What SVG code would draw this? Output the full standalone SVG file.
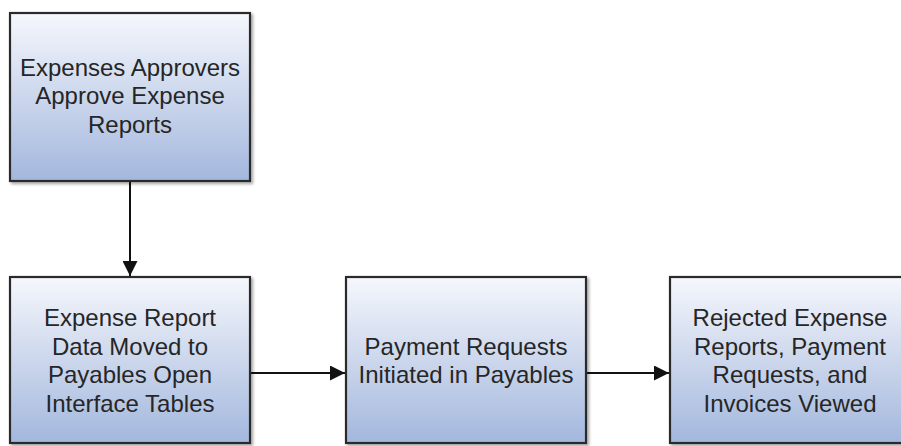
<svg xmlns="http://www.w3.org/2000/svg" width="901" height="446" viewBox="0 0 901 446">
<defs>
<linearGradient id="g" x1="0" y1="0" x2="0" y2="1">
<stop offset="0" stop-color="#f5f7fc"/>
<stop offset="1" stop-color="#a3b7dd"/>
</linearGradient>
<filter id="sh" x="-5%" y="-5%" width="115%" height="115%">
<feGaussianBlur in="SourceAlpha" stdDeviation="1.5"/>
<feOffset dx="1.5" dy="1.5" result="b"/>
<feComponentTransfer><feFuncA type="linear" slope="0.35"/></feComponentTransfer>
<feMerge><feMergeNode/><feMergeNode in="SourceGraphic"/></feMerge>
</filter>
<marker id="arr" viewBox="0 0 10 10" refX="10" refY="5" markerWidth="7.5" markerHeight="7.5" orient="auto" markerUnits="strokeWidth">
<path d="M0,0 L10,5 L0,10 z" fill="#111"/>
</marker>
</defs>
<style>
.box{fill:url(#g);stroke:#2a2a2a;stroke-width:2.2;filter:url(#sh)}
.t{font-family:"Liberation Sans",Arial,sans-serif;font-size:24px;fill:#262626;text-anchor:middle}
.c{stroke:#111;stroke-width:2;fill:none;marker-end:url(#arr)}
</style>
<g id="connectors">
<line class="c" x1="130" y1="181" x2="130" y2="276"/>
<line class="c" x1="250" y1="373" x2="345" y2="373"/>
<line class="c" x1="586" y1="373" x2="669" y2="373"/>
</g>
<g id="n1">
<rect class="box" x="10" y="13" width="240" height="168"/>
<text class="t" x="130" y="76">Expenses Approvers</text>
<text class="t" x="130" y="104">Approve Expense</text>
<text class="t" x="130" y="133">Reports</text>
</g>
<g id="n2">
<rect class="box" x="10" y="277" width="240" height="166"/>
<text class="t" x="130" y="326">Expense Report</text>
<text class="t" x="130" y="355">Data Moved to</text>
<text class="t" x="130" y="383">Payables Open</text>
<text class="t" x="130" y="412">Interface Tables</text>
</g>
<g id="n3">
<rect class="box" x="346" y="277" width="240" height="166"/>
<text class="t" x="466" y="355">Payment Requests</text>
<text class="t" x="466" y="383">Initiated in Payables</text>
</g>
<g id="n4">
<rect class="box" x="670" y="277" width="240" height="166"/>
<text class="t" x="790" y="326">Rejected Expense</text>
<text class="t" x="790" y="355">Reports, Payment</text>
<text class="t" x="790" y="383">Requests, and</text>
<text class="t" x="790" y="412">Invoices Viewed</text>
</g>
</svg>
